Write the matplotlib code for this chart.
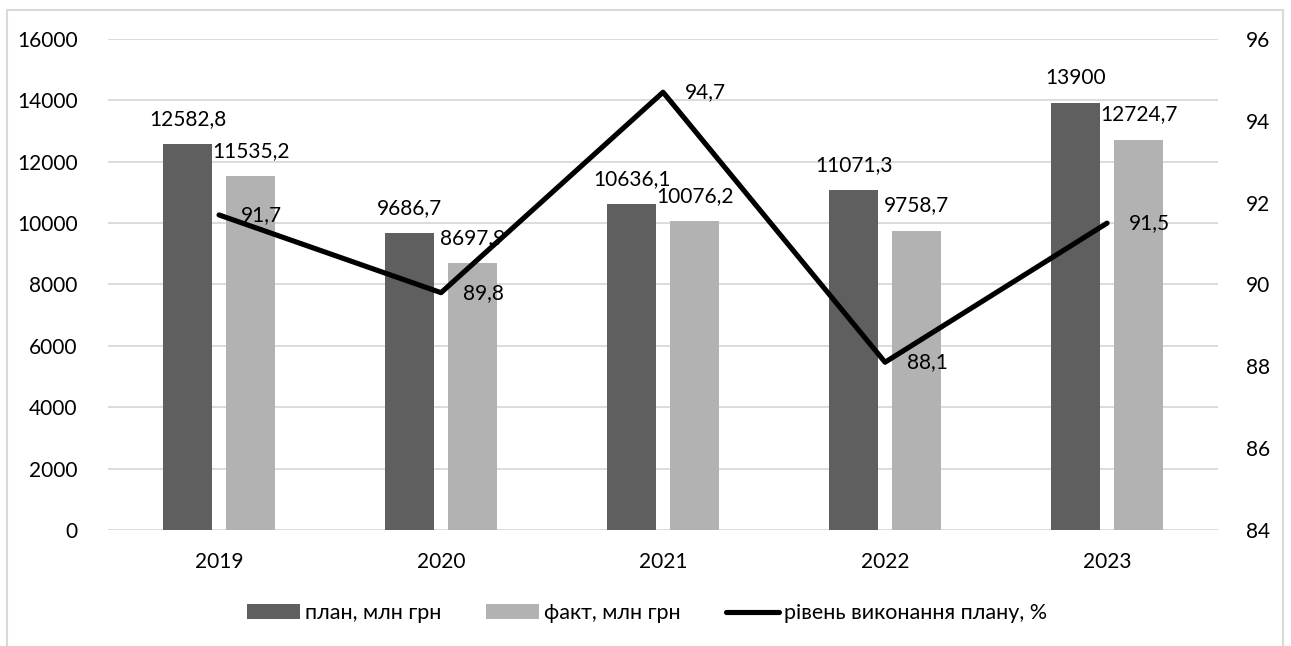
import numpy as np
import matplotlib.pyplot as plt
from matplotlib.patches import Rectangle

plt.rcParams['font.family'] = ['Lato', 'Open Sans', 'DejaVu Sans']

# Plan vs actual (mln UAH) and plan fulfilment level (%)
years = ['2019', '2020', '2021', '2022', '2023']
plan = [12582.8, 9686.7, 10636.1, 11071.3, 13900]
fact = [11535.2, 8697.9, 10076.2, 9758.7, 12724.7]
level = [91.7, 89.8, 94.7, 88.1, 91.5]


def fmt(v):
    s = ('%.1f' % v).replace('.', ',')
    return s[:-2] if s.endswith(',0') else s


fig = plt.figure(figsize=(12.91, 6.46), dpi=100)
ax = fig.add_axes([0.0837, 0.1796, 0.8598, 0.7600])
ax2 = ax.twinx()

x = np.arange(len(years))
w = 0.22
off = 0.142
grid_c = '#d9d9d9'
fs = 15

b1 = ax.bar(x - off, plan, w, color='#5f5f5f', label='план, млн грн', zorder=2)
b2 = ax.bar(x + off, fact, w, color='#b2b2b2', label='факт, млн грн', zorder=2)

ax.set_ylim(0, 16000)
ax.set_yticks(range(0, 16001, 2000))
ax.set_xlim(-0.5, 4.5)
ax.set_xticks(x)
ax.set_xticklabels(years)
ax.grid(axis='y', color=grid_c, linewidth=1.3, zorder=0)
ax.set_axisbelow(True)
for s in ax.spines.values():
    s.set_visible(False)
for s in ax2.spines.values():
    s.set_visible(False)
ax.tick_params(axis='both', length=0, labelsize=fs, colors='#000000')
ax.tick_params(axis='y', pad=22)
ax.tick_params(axis='x', pad=16)

ln, = ax2.plot(x, level, color='black', linewidth=3.7, solid_capstyle='round',
               label='рівень виконання плану, %', zorder=3)
ax2.set_ylim(84, 96)
ax2.set_yticks(range(84, 97, 2))
ax2.tick_params(axis='y', length=0, labelsize=fs, pad=20)

# data labels
for xi, v in zip(x, plan):
    ax.annotate(fmt(v), (xi - off, v), xytext=(0, 15), textcoords='offset pixels',
                ha='center', va='bottom', fontsize=fs)
for xi, v in zip(x, fact):
    ax.annotate(fmt(v), (xi + off, v), xytext=(0, 15), textcoords='offset pixels',
                ha='center', va='bottom', fontsize=fs)
for xi, v in zip(x, level):
    ax2.annotate(fmt(v), (xi, v), xytext=(22, 0), textcoords='offset pixels',
                 ha='left', va='center', fontsize=fs, zorder=4)

fig.legend(handles=[b1, b2, ln], loc='center', bbox_to_anchor=(647 / 1291, 1 - 613 / 646),
           ncol=3, frameon=False, fontsize=15.5, handlelength=2.45, handleheight=0.65,
           handletextpad=0.23, columnspacing=2.1)

# outer chart border
fig.patches.append(Rectangle((7 / 1291, -0.1), 1276 / 1291, 1.1 - 10 / 646,
                             transform=fig.transFigure, fill=False,
                             edgecolor=grid_c, linewidth=1.5))

fig.savefig('out.png', dpi=100)
